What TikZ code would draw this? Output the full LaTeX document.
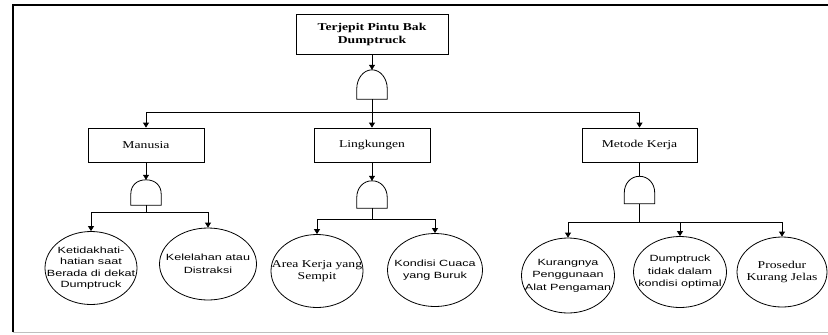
\documentclass[tikz,border=0pt]{standalone}
\usepackage{fontspec}
\setmainfont{Liberation Serif}[FakeStretch=1.3]
\setsansfont{Liberation Sans}[FakeStretch=1.4]
\usetikzlibrary{arrows.meta,shapes.geometric,calc}
\tikzset{
  conn/.style={line width=0.8bp, draw=black},
  arr/.style={conn, -{Triangle[length=5bp,width=6bp]}},
  boxnode/.style={draw, line width=0.8bp, minimum width=116bp, minimum height=34bp, inner sep=0, align=center, font=\fontsize{10.5bp}{13bp}\selectfont},
  topbox/.style={boxnode, minimum width=152bp, minimum height=40bp, font=\fontsize{10.5bp}{13bp}\selectfont\bfseries},
  gatebox/.style={inner sep=0, minimum width=30bp, minimum height=#1},
  eventnode/.style={ellipse, draw, line width=0.8bp, inner sep=0},
  sanstext/.style={align=center, inner sep=0, font=\sffamily\fontsize{9bp}{12.5bp}\selectfont},
  seriftext/.style={align=center, inner sep=0, font=\fontsize{10.5bp}{12.5bp}\selectfont},
}
\newcommand\gateshape[1]{%
  \draw[conn] (#1.south west) -- ($(#1.south west)+(0,-11)$)
    .. controls +(0,-9) and +(-9,0) .. (#1.north)
    .. controls +(9,0) and +(0,-9) .. ($(#1.south east)+(0,-11)$)
    -- (#1.south east) -- cycle;}
\begin{document}
\begin{tikzpicture}[x=1bp,y=-1bp]
\useasboundingbox (0,0) rectangle (828,334);
\fill[white] (0,0) rectangle (828,334);
% frame
\draw[line width=1.4bp] (13,332) -- (13,5) -- (828,5);
\draw[line width=1bp, black!25] (13,332.5) -- (828,332.5);

% top event
\node[topbox] (top) at (372,34) {Terjepit Pintu Bak\\Dumptruck};
\node[gatebox=29bp] (g1) at (372,84.5) {};
\gateshape{g1}
\coordinate (b1) at (372,112);

% second level
\node[boxnode] (man) at (146,145) {Manusia};
\node[boxnode] (lin) at (372,145) {Lingkungen};
\node[boxnode, minimum width=115bp] (met) at (639.5,145) {Metode Kerja};

\node[gatebox=25bp] (g2) at (146,192.5) {};
\gateshape{g2}
\node[gatebox=27bp] (g3) at (372,194.5) {};
\gateshape{g3}
\node[gatebox=27bp] (g4) at (639.5,190) {};
\gateshape{g4}
\coordinate (b2) at (146,212);
\coordinate (b3) at (372,219);
\coordinate (b4) at (639.5,222);

% basic events
\node[eventnode, minimum width=92bp, minimum height=73bp] (e1) at (91,268) {};
\node[sanstext, font=\sffamily\fontsize{9bp}{11.5bp}\selectfont] (e1t) at (e1.center) {Ketidakhati-\\hatian saat\\Berada di dekat\\Dumptruck};
\node[eventnode, minimum width=97bp, minimum height=72bp] (e2) at (208,264) {};
\node[sanstext] (e2t) at (e2.center) {Kelelahan atau\\Distraksi};
\node[eventnode, minimum width=92bp, minimum height=73bp] (e3) at (317,271) {};
\node[seriftext] (e3t) at (e3.center) {Area Kerja yang\\Sempit};
\node[eventnode, minimum width=95bp, minimum height=73bp] (e4) at (435,270) {};
\node[sanstext] (e4t) at (e4.center) {Kondisi Cuaca\\yang Buruk};
\node[eventnode, minimum width=93bp, minimum height=75bp] (e5) at (568,275.5) {};
\node[sanstext] (e5t) at (e5.center) {Kurangnya\\Penggunaan\\Alat Pengaman};
\node[eventnode, minimum width=93bp, minimum height=71bp] (e6) at (680,272) {};
\node[sanstext] (e6t) at (e6.center) {Dumptruck\\tidak dalam\\kondisi optimal};
\node[eventnode, minimum width=90bp, minimum height=70bp] (e7) at (782,272) {};
\node[seriftext] (e7t) at (e7.center) {Prosedur\\Kurang Jelas};

% connectors
\draw[arr] (top.south) -- (g1.north);
\draw[conn] (g1.south) -- (b1);
\draw[arr] (b1) -| (man.north);
\draw[arr] (b1) -- (lin.north);
\draw[arr] (b1) -| (met.north);

\draw[arr] (man.south) -- (g2.north);
\draw[arr] (lin.south) -- (g3.north);
\draw[conn] (met.south) -- (g4.north);

\draw[conn] (g2.south) -- (b2);
\draw[arr] (b2) -| (e1.north);
\draw[arr] (b2) -| (e2.north);

\draw[conn] (g3.south) -- (b3);
\draw[arr] (b3) -| (e3.north);
\draw[arr] (b3) -| (e4.north);

\draw[conn] (g4.south) -- (b4);
\draw[arr] (b4) -| (e5.north);
\draw[arr] (b4) -| (e6.north);
\draw[arr] (b4) -| (e7.north);
\end{tikzpicture}
\end{document}
